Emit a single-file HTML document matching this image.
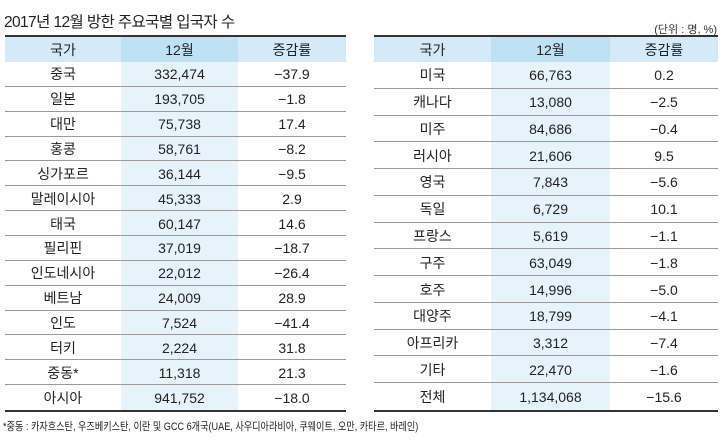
<!DOCTYPE html>
<html><head><meta charset="utf-8"><style>
body{margin:0;width:723px;height:448px;background:#fff;font-family:"Liberation Sans","Noto Sans CJK KR",sans-serif;color:#222;position:relative;overflow:hidden}
.title{position:absolute;left:4px;top:10px;font-size:15.5px;letter-spacing:-0.6px}
.unit{position:absolute;right:6px;top:21px;font-size:11px;color:#333}
.tbl{position:absolute;top:35px;height:377px;border-top:2px solid #333;border-bottom:2px solid #333;box-sizing:border-box}
.cell{position:absolute;display:flex;align-items:center;justify-content:center;font-size:14px;box-sizing:border-box}
.hdr{background:#d4eaf8}
.hm{background:#bfe1f4}
.bm{background:#e6f3fb}
.line{position:absolute;height:1px;background:#9a9a9a}
.foot{position:absolute;left:3px;top:418px;font-size:11px;white-space:nowrap;transform:scaleX(0.83);transform-origin:left top}
</style></head><body>
<div class="title">2017년 12월 방한 주요국별 입국자 수</div>
<div class="unit">(단위 : 명, %)</div>
<div class="tbl" id="t1" style="left:5px;width:341px"></div>
<div class="tbl" id="t2" style="left:374px;width:344px"></div>
<div class="foot">*중동 : 카자흐스탄, 우즈베키스탄, 이란 및 GCC 6개국(UAE, 사우디아라비아, 쿠웨이트, 오만, 카타르, 바레인)</div>
<script>
const headers=["국가","12월","증감률"];
const leftCountries=["중국","일본","대만","홍콩","싱가포르","말레이시아","태국","필리핀","인도네시아","베트남","인도","터키","중동*","아시아"];
const leftValues=["332,474","193,705","75,738","58,761","36,144","45,333","60,147","37,019","22,012","24,009","7,524","2,224","11,318","941,752"];
const leftRates=["−37.9","−1.8","17.4","−8.2","−9.5","2.9","14.6","−18.7","−26.4","28.9","−41.4","31.8","21.3","−18.0"];
const rightCountries=["미국","캐나다","미주","러시아","영국","독일","프랑스","구주","호주","대양주","아프리카","기타","전체"];
const rightValues=["66,763","13,080","84,686","21,606","7,843","6,729","5,619","63,049","14,996","18,799","3,312","22,470","1,134,068"];
const rightRates=["0.2","−2.5","−0.4","9.5","−5.6","10.1","−1.1","−1.8","−5.0","−4.1","−7.4","−1.6","−15.6"];
function build(id,colW,c,v,r){
  const t=document.getElementById(id);
  const headH=25, bodyH=373-2-headH-2+2; // inner height ~ 348
  const total=373-headH;
  const rowH=(total)/c.length;
  const xs=[0,colW[0],colW[0]+colW[1]];
  // middle column background
  const bg=document.createElement('div');
  bg.className='cell bm';
  bg.style.cssText='left:'+xs[1]+'px;top:'+headH+'px;width:'+colW[1]+'px;height:'+total+'px';
  
  
  t.appendChild(bg);
  headers.forEach((x,i)=>{
    const d=document.createElement('div');
    d.className='cell '+(i==1?'hm':'hdr');
    d.style.cssText='left:'+xs[i]+'px;top:0;width:'+colW[i]+'px;height:'+headH+'px';
    d.textContent=x;
    
    
    t.appendChild(d);
  });
  c.forEach((name,i)=>{
    const y=headH+i*rowH;
    [name,v[i],r[i]].forEach((x,j)=>{
      const d=document.createElement('div');
      d.className='cell';
      d.style.cssText='left:'+xs[j]+'px;top:'+y+'px;width:'+colW[j]+'px;height:'+rowH+'px';
      d.textContent=x;
      
      
      t.appendChild(d);
    });
    if(i<c.length-1){
      const l=document.createElement('div');
      l.className='line';
      l.style.cssText='left:0;width:100%;top:'+(y+rowH-1)+'px';
      
      
      t.appendChild(l);
    }
  });
}
build('t1',[116,117,108],leftCountries,leftValues,leftRates);
build('t2',[117,119,108],rightCountries,rightValues,rightRates);
</script>
</body></html>
